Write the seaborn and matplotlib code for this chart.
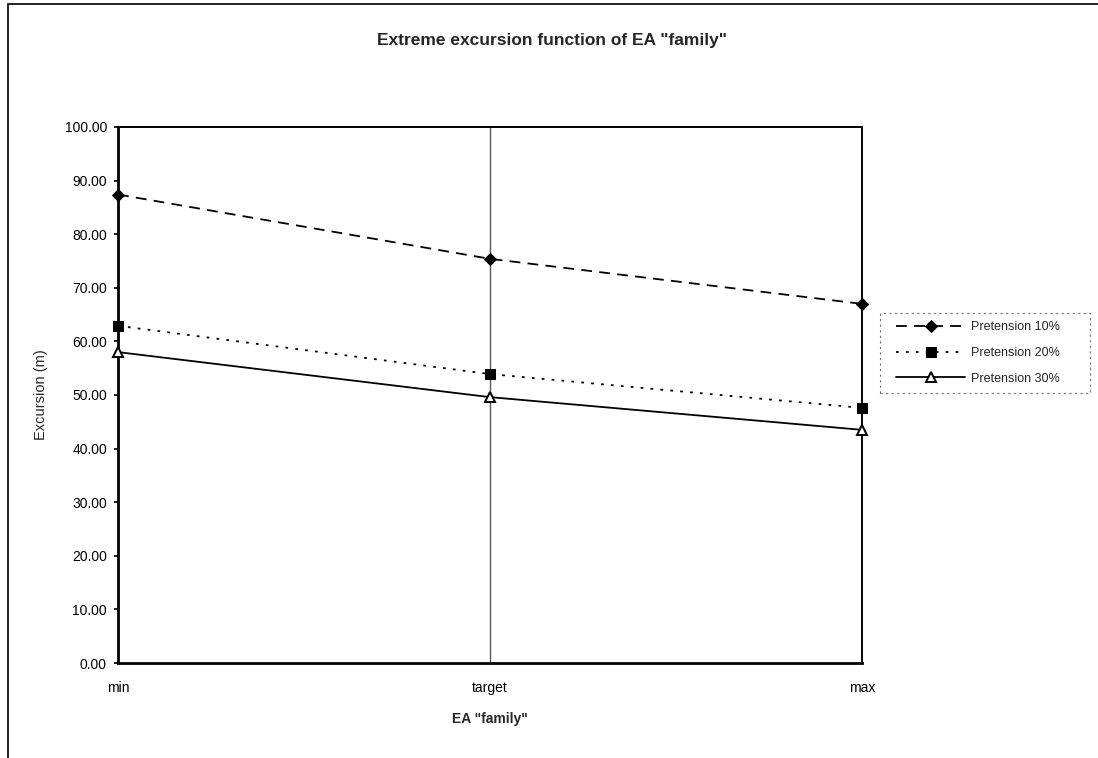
import matplotlib
matplotlib.use("Agg")
import matplotlib.pyplot as plt
import seaborn as sns
import pandas as pd
from matplotlib.patches import Rectangle

# Categories along the x axis
categories = ["min", "target", "max"]

# Extreme excursion (m) per pretension level
pretension_10 = [87.4, 75.4, 67.0]
pretension_20 = [62.9, 53.9, 47.6]
pretension_30 = [58.0, 49.6, 43.5]

series_names = ["Pretension 10%", "Pretension 20%", "Pretension 30%"]
y_ticks = [0, 10, 20, 30, 40, 50, 60, 70, 80, 90, 100]

sns.set_theme(style="white")
plt.rcParams["font.family"] = ["Liberation Sans", "DejaVu Sans"]

rows = []
for name, vals in zip(series_names, [pretension_10, pretension_20, pretension_30]):
    for i, (cat, v) in enumerate(zip(categories, vals)):
        rows.append({"pos": i, "cat": cat, "series": name, "value": v})
df = pd.DataFrame(rows)

fig = plt.figure(figsize=(10.98, 7.58), dpi=100)
ax = fig.add_axes([0.1075, 0.1253, 0.6775, 0.7072])

styles = {
    "Pretension 10%": dict(linestyle=(0, (6, 4)), marker="D", markersize=6,
                           markerfacecolor="black", markeredgecolor="black"),
    "Pretension 20%": dict(linestyle=(0, (1.5, 4)), marker="s", markersize=7,
                           markerfacecolor="black", markeredgecolor="black"),
    "Pretension 30%": dict(linestyle="-", marker="^", markersize=7,
                           markerfacecolor="white", markeredgecolor="black",
                           markeredgewidth=1.4),
}

# Thin vertical reference line at the target value
ax.axvline(1, color="0.35", lw=1.0, zorder=1)

for name in series_names:
    sub = df[df["series"] == name]
    sns.lineplot(data=sub, x="pos", y="value", ax=ax, color="black",
                 linewidth=1.3, label=name, zorder=3, clip_on=False,
                 **styles[name])

ax.set_xlim(0, 2)
ax.set_ylim(0, 100)
ax.set_xticks(range(len(categories)))
ax.set_xticklabels(categories)
ax.set_yticks(y_ticks)
ax.set_yticklabels([f"{t:.2f}" for t in y_ticks])
ax.tick_params(axis="both", labelsize=10, colors="black", length=3,
               direction="out", left=True, bottom=False, pad=5)
ax.tick_params(axis="x", pad=10)

for side in ["left", "bottom"]:
    ax.spines[side].set_linewidth(2.0)
    ax.spines[side].set_color("black")
for side in ["top", "right"]:
    ax.spines[side].set_linewidth(1.4)
    ax.spines[side].set_color("black")

ax.set_xlabel('EA "family"', fontsize=10, fontweight="bold", labelpad=12)
ax.set_ylabel("Excursion (m)", fontsize=10.5, labelpad=12)

# Chart title centred on the whole chart area
fig.text(0.503, 0.947, 'Extreme excursion function of EA "family"',
         fontsize=12.5, fontweight="bold", ha="center", va="center")

leg = ax.legend(loc="center left", bbox_to_anchor=(0.8015, 0.5343),
                bbox_transform=fig.transFigure, frameon=False,
                fontsize=9, handlelength=5.5, handletextpad=0.5,
                borderpad=0.8, labelspacing=1.1)

# Dotted box around the legend
fig.patches.append(Rectangle((0.8015, 0.4815), 0.1913, 0.1055,
                             transform=fig.transFigure, fill=False,
                             edgecolor="0.45", linewidth=0.8,
                             linestyle=(0, (2, 3))))

# Outer chart frame
fig.patches.append(Rectangle((0.0073, -0.02), 1.2, 1.015, transform=fig.transFigure,
                             fill=False, edgecolor="black", linewidth=1.2))

fig.savefig("out.png", dpi=100, facecolor="white")
